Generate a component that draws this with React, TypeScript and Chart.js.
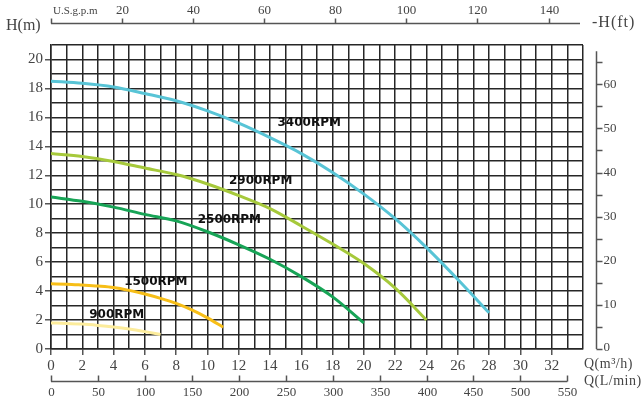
import React, { useEffect, useRef } from 'react';
import { Chart, registerables } from 'chart.js';

Chart.register(...registerables);

// ---- data (Q in m³/h, H in m) ----
const q3400 = [0, 2, 4, 6, 8, 10, 12, 14, 16, 18, 20, 22, 24, 26, 28];
const h3400 = [18.5, 18.35, 18.1, 17.65, 17.15, 16.45, 15.6, 14.6, 13.5, 12.2, 10.7, 9.0, 7.0, 4.8, 2.5];

const q2900 = [0, 2, 4, 6, 8, 10, 12, 14, 16, 18, 20, 22, 24];
const h2900 = [13.5, 13.3, 12.95, 12.5, 12.05, 11.4, 10.6, 9.7, 8.5, 7.25, 5.9, 4.2, 2.0];

const q2500 = [0, 2, 4, 6, 8, 10, 12, 14, 16, 18, 20];
const h2500 = [10.5, 10.2, 9.8, 9.3, 8.85, 8.1, 7.2, 6.2, 5.0, 3.6, 1.8];

const q1500 = [0, 1, 2, 3, 4, 5, 6, 7, 8, 9, 10, 11];
const h1500 = [4.5, 4.48, 4.42, 4.35, 4.25, 4.05, 3.8, 3.5, 3.15, 2.7, 2.15, 1.5];

const q900 = [0, 1, 2, 3, 4, 5, 6, 7];
const h900 = [1.8, 1.77, 1.72, 1.63, 1.52, 1.38, 1.2, 1.0];

const seriesNames = ['3400RPM', '2900RPM', '2500RPM', '1500RPM', '900RPM'];
const seriesColors = ['#58c4d6', '#a6c93b', '#17a456', '#f7be17', '#fcec9c'];
const seriesQ = [q3400, q2900, q2500, q1500, q900];
const seriesH = [h3400, h2900, h2500, h1500, h900];

// label anchors (data coordinates, centre of text)
const labelQ = [16.5, 13.4, 11.4, 6.7, 4.2];
const labelH = [15.6, 11.6, 8.95, 4.65, 2.35];

// ---- tick labels ----
const xTickLabels = [0, 2, 4, 6, 8, 10, 12, 14, 16, 18, 20, 22, 24, 26, 28, 30, 32];
const yTickLabels = [0, 2, 4, 6, 8, 10, 12, 14, 16, 18, 20];
const ftTickLabels = [0, 10, 20, 30, 40, 50, 60];
const ftTickMarks = [0, 5, 10, 15, 20, 25, 30, 35, 40, 45, 50, 55, 60, 65];
const gpmTicks = [0, 20, 40, 60, 80, 100, 120, 140];
const lpmTicks = [0, 50, 100, 150, 200, 250, 300, 350, 400, 450, 500, 550];

const FT_PER_M = 3.2808;
const GPM_PER_M3H = 4.4029;
const LPM_PER_M3H = 16.6667;

const TICK_FONT = '"Liberation Serif", serif';
const TEXT_COLOR = '#444';
const GRID_COLOR = '#262626';

const extrasPlugin = {
  id: 'extras',
  afterDraw(chart: any) {
    const ctx = chart.ctx as CanvasRenderingContext2D;
    const xs = chart.scales.x;
    const ys = chart.scales.y;
    const area = chart.chartArea;
    ctx.save();

    // RPM labels
    ctx.fillStyle = '#111';
    ctx.font = 'bold 12px "DejaVu Sans", sans-serif';
    ctx.textAlign = 'center';
    ctx.textBaseline = 'middle';
    seriesNames.forEach((n, i) => {
      ctx.fillText(n, xs.getPixelForValue(labelQ[i]), ys.getPixelForValue(labelH[i]));
    });

    ctx.strokeStyle = '#555';
    ctx.fillStyle = TEXT_COLOR;
    ctx.lineWidth = 1.5;

    // top U.S.gpm axis
    const topY = area.top - 21.5;
    ctx.beginPath();
    ctx.moveTo(area.left, topY);
    ctx.lineTo(area.right - 3, topY);
    ctx.stroke();
    ctx.font = '13px ' + TICK_FONT;
    ctx.textAlign = 'center';
    ctx.textBaseline = 'middle';
    gpmTicks.forEach((g) => {
      const px = Math.round(xs.getPixelForValue(g / GPM_PER_M3H)) + 0.5;
      ctx.beginPath();
      ctx.moveTo(px, topY);
      ctx.lineTo(px, topY - 5);
      ctx.stroke();
      if (g > 0) ctx.fillText(String(g), px, topY - 13);
    });
    ctx.textAlign = 'left';
    ctx.font = '11px ' + TICK_FONT;
    ctx.fillText('U.S.g.p.m', area.left + 2, topY - 12);

    // axis titles
    ctx.font = '16px ' + TICK_FONT;
    ctx.textAlign = 'left';
    ctx.fillText('H(m)', 6, 26);
    (ctx as any).letterSpacing = '1px';
    ctx.fillText('-H(ft)', area.right + 9, 23);
    ctx.font = '14px ' + TICK_FONT;
    (ctx as any).letterSpacing = '0.5px';
    ctx.fillText('Q(m³/h)', area.right + 1, ys.bottom + 15);
    ctx.fillText('Q(L/min)', area.right + 1, ys.bottom + 32);
    (ctx as any).letterSpacing = '0px';

    // right H(ft) axis
    const rx = area.right + 13.5;
    ctx.beginPath();
    ctx.moveTo(rx, ys.getPixelForValue(67.5 / FT_PER_M));
    ctx.lineTo(rx, ys.getPixelForValue(0));
    ctx.stroke();
    ftTickMarks.forEach((f) => {
      const py = Math.round(ys.getPixelForValue(f / FT_PER_M)) + 0.5;
      ctx.beginPath();
      ctx.moveTo(rx, py);
      ctx.lineTo(rx + 6, py);
      ctx.stroke();
    });
    ctx.font = '13px ' + TICK_FONT;
    ctx.textAlign = 'left';
    ctx.textBaseline = 'middle';
    ftTickLabels.forEach((f) => {
      const py = ys.getPixelForValue(f / FT_PER_M);
      ctx.fillText(String(f), rx + 7, f === 0 ? py - 1 : py);
    });

    // bottom L/min axis
    const by = ys.bottom + 32.5;
    ctx.beginPath();
    ctx.moveTo(area.left, by);
    ctx.lineTo(xs.getPixelForValue(550 / LPM_PER_M3H), by);
    ctx.stroke();
    ctx.textAlign = 'center';
    ctx.textBaseline = 'middle';
    lpmTicks.forEach((l) => {
      const px = Math.round(xs.getPixelForValue(l / LPM_PER_M3H)) + 0.5;
      ctx.beginPath();
      ctx.moveTo(px, by);
      ctx.lineTo(px, by - 6);
      ctx.stroke();
      ctx.fillText(String(l), px, by + 11);
    });

    ctx.restore();
  },
};

export default function App() {
  const ref = useRef<HTMLCanvasElement>(null);

  useEffect(() => {
    if (!ref.current) return;
    const datasets = seriesNames.map((n, i) => ({
      label: n,
      data: seriesQ[i].map((q, j) => ({ x: q, y: seriesH[i][j] })),
      borderColor: seriesColors[i],
      backgroundColor: seriesColors[i],
      borderWidth: 3,
      pointRadius: 0,
      cubicInterpolationMode: 'monotone' as const,
      fill: false,
    }));

    const chart = new Chart(ref.current, {
      type: 'line',
      data: { datasets },
      options: {
        animation: false,
        responsive: false,
        layout: { padding: { top: 45, right: 60, left: 0, bottom: 0 } },
        plugins: { legend: { display: false }, tooltip: { enabled: false } },
        scales: {
          x: {
            type: 'linear',
            position: 'bottom',
            min: 0,
            max: 34,
            afterFit: (s: any) => {
              s.height = 51;
            },
            ticks: {
              stepSize: 1,
              autoSkip: false,
              maxRotation: 0,
              padding: 2,
              color: TEXT_COLOR,
              font: { family: TICK_FONT, size: 15 },
              callback: (v: any) => (xTickLabels.includes(Number(v)) ? String(v) : ''),
            },
            grid: {
              color: GRID_COLOR,
              lineWidth: 1.5,
              tickLength: 6,
              tickColor: (c: any) =>
                c.tick && xTickLabels.includes(c.tick.value) ? '#555' : 'rgba(0,0,0,0)',
            },
            border: { color: GRID_COLOR, width: 1.5 },
          },
          y: {
            type: 'linear',
            position: 'left',
            min: 0,
            max: 21,
            afterFit: (s: any) => {
              s.width = 51;
            },
            ticks: {
              stepSize: 1,
              autoSkip: false,
              padding: 2,
              color: TEXT_COLOR,
              font: { family: TICK_FONT, size: 15 },
              callback: (v: any) => (yTickLabels.includes(Number(v)) ? String(v) : ''),
            },
            grid: {
              color: GRID_COLOR,
              lineWidth: 1.5,
              tickLength: 6,
              tickColor: (c: any) =>
                c.tick && yTickLabels.includes(c.tick.value) ? '#555' : 'rgba(0,0,0,0)',
            },
            border: { color: GRID_COLOR, width: 1.5 },
          },
        },
      },
      plugins: [extrasPlugin],
    });
    return () => chart.destroy();
  }, []);

  return (
    <div style={{ position: 'absolute', left: 0, top: 0, width: 643, height: 400, background: '#fff' }}>
      <canvas ref={ref} width={643} height={400} />
    </div>
  );
}
